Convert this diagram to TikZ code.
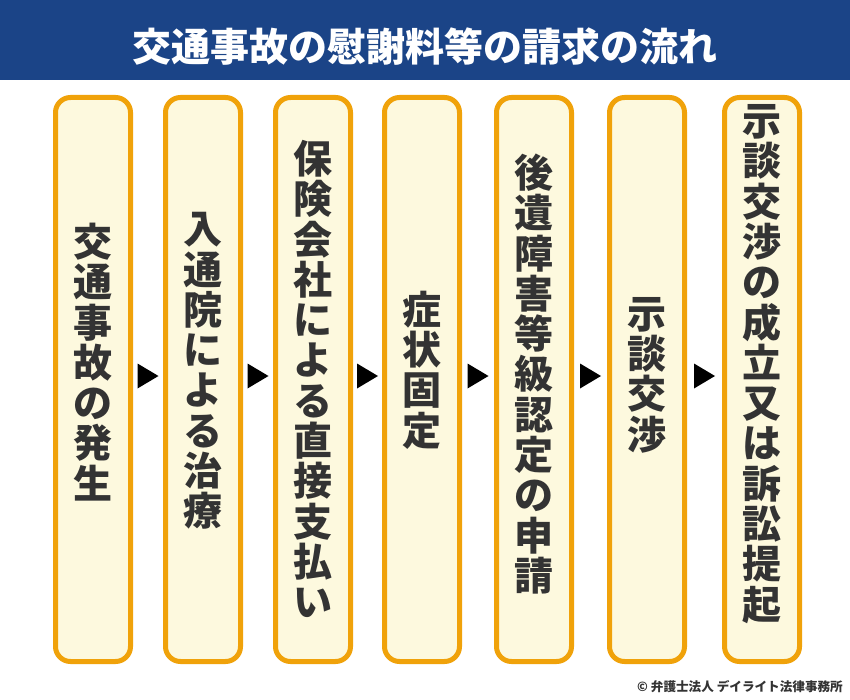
\documentclass[tikz,border=0pt]{standalone}
\usepackage{fontspec}
\setmainfont{Noto Sans CJK JP}
\usetikzlibrary{calc}
\definecolor{hdr}{RGB}{27,68,135}
\definecolor{orng}{RGB}{240,162,10}
\definecolor{cream}{RGB}{253,249,222}
\definecolor{txt}{RGB}{51,51,51}
\tikzset{
  stepbox/.style={draw=orng, line width=5pt, fill=cream, rounded corners=15pt,
    minimum width=75pt, minimum height=564pt, inner sep=0pt},
  steptext/.style={text=txt, font=\bfseries\fontsize{39}{40.3}\selectfont,
    align=center, inner sep=0pt},
  arrowtri/.style={fill=black},
  titletext/.style={text=white, font=\bfseries\fontsize{39}{41}\selectfont, inner sep=0pt},
  copytext/.style={text=txt, font=\bfseries\fontsize{12.6}{14}\selectfont, inner sep=0pt},
}
\begin{document}
\begin{tikzpicture}[x=1pt,y=-1pt]
\useasboundingbox (0,0) rectangle (850,700);
\fill[white] (0,0) rectangle (850,700);
% header
\fill[hdr] (0,0) rectangle (850,80);
\node[titletext] (title) at (425,47) {交通事故の慰謝料等の請求の流れ};
% boxes
\node[stepbox] (b1) at (93,379.5) {};
\node[stepbox] (b2) at (203,379.5) {};
\node[stepbox] (b3) at (313,379.5) {};
\node[stepbox] (b4) at (422,379.5) {};
\node[stepbox] (b5) at (534,379.5) {};
\node[stepbox] (b6) at (647,379.5) {};
\node[stepbox] (b7) at (762,379.5) {};
% texts
\node[steptext] (t1) at (93,362) {交\\通\\事\\故\\の\\発\\生};
\node[steptext] (t2) at (203,371) {入\\通\\院\\に\\よ\\る\\治\\療};
\node[steptext] (t3) at (313,379) {保\\険\\会\\社\\に\\よ\\る\\直\\接\\支\\払\\い};
\node[steptext] (t4) at (422,370) {症\\状\\固\\定};
\node[steptext] (t5) at (534,374) {後\\遺\\障\\害\\等\\級\\認\\定\\の\\申\\請};
\node[steptext] (t6) at (647,375) {示\\談\\交\\渉};
\node[steptext] (t7) at (762,364) {示\\談\\交\\渉\\の\\成\\立\\又\\は\\訴\\訟\\提\\起};
% arrows
\foreach \a/\b in {b1/b2,b2/b3,b3/b4,b4/b5,b5/b6,b6/b7}{
  \coordinate (m\a) at ($(\a.east)!0.5!(\b.west)+(0,-3.5)$);
  \fill[arrowtri] (m\a) ++(-10.5,-12.5) -- ++(21,12.5) -- ++(-21,12.5) -- cycle;
}
% copyright
\node[copytext, anchor=east] (copy) at (843,687) {© 弁護士法人 デイライト法律事務所};
\end{tikzpicture}
\end{document}
